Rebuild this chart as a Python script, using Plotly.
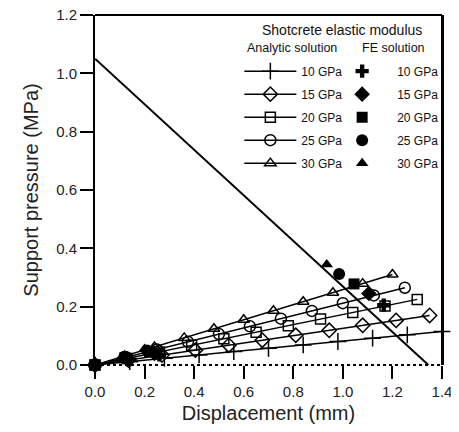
import plotly.graph_objects as go

# Ground reaction curve
grc_x = [0.0, 1.345]
grc_y = [1.05, 0.0]

moduli = ["10 GPa", "15 GPa", "20 GPa", "25 GPa", "30 GPa"]

# Analytic solution (support characteristic lines)
a10_x = [0, 0.14, 0.28, 0.42, 0.56, 0.70, 0.84, 0.98, 1.12, 1.26, 1.40]
a10_y = [0, 0.0115, 0.023, 0.0345, 0.046, 0.0575, 0.069, 0.0805, 0.092, 0.1035, 0.115]
a15_x = [0, 0.135, 0.27, 0.405, 0.54, 0.675, 0.81, 0.945, 1.08, 1.215, 1.35]
a15_y = [0, 0.017, 0.034, 0.051, 0.068, 0.085, 0.102, 0.119, 0.136, 0.153, 0.170]
a20_x = [0, 0.13, 0.26, 0.39, 0.52, 0.65, 0.78, 0.91, 1.04, 1.17, 1.30]
a20_y = [0, 0.0225, 0.045, 0.0675, 0.09, 0.1125, 0.135, 0.1575, 0.18, 0.2025, 0.225]
a25_x = [0, 0.125, 0.25, 0.375, 0.50, 0.625, 0.75, 0.875, 1.00, 1.125, 1.25]
a25_y = [0, 0.0265, 0.053, 0.0795, 0.106, 0.1325, 0.159, 0.1855, 0.212, 0.2385, 0.265]
a30_x = [0, 0.12, 0.24, 0.36, 0.48, 0.60, 0.72, 0.84, 0.96, 1.08, 1.20]
a30_y = [0, 0.031, 0.062, 0.093, 0.124, 0.155, 0.186, 0.217, 0.248, 0.279, 0.310]

# FE solution
f10_x = [0, 0.14, 0.26, 1.165]
f10_y = [0, 0.018, 0.035, 0.205]
f15_x = [0, 0.13, 0.24, 1.105]
f15_y = [0, 0.020, 0.040, 0.245]
f20_x = [0, 0.12, 0.22, 1.045]
f20_y = [0, 0.025, 0.045, 0.278]
f25_x = [0, 0.12, 0.21, 0.985]
f25_y = [0, 0.028, 0.050, 0.312]
f30_x = [0, 0.11, 0.20, 0.935]
f30_y = [0, 0.030, 0.055, 0.345]

x_ticks = [0.0, 0.2, 0.4, 0.6, 0.8, 1.0, 1.2, 1.4]
y_ticks = [0.0, 0.2, 0.4, 0.6, 0.8, 1.0, 1.2]

analytic = [(a10_x, a10_y, "cross-thin-open", 12),
            (a15_x, a15_y, "diamond-open", 11),
            (a20_x, a20_y, "square-open", 10),
            (a25_x, a25_y, "circle-open", 11),
            (a30_x, a30_y, "triangle-up-open", 10)]
fe = [(f10_x, f10_y, "cross", 11),
      (f15_x, f15_y, "diamond", 12),
      (f20_x, f20_y, "square", 11),
      (f25_x, f25_y, "circle", 12),
      (f30_x, f30_y, "triangle-up", 11)]

FONT = "Liberation Sans, Arial, sans-serif"
fig = go.Figure()

fig.add_trace(go.Scatter(x=grc_x, y=grc_y, mode="lines",
                         line=dict(color="black", width=2), showlegend=False,
                         cliponaxis=False))

for name, (xs, ys, sym, sz) in zip(moduli, analytic):
    fig.add_trace(go.Scatter(x=xs, y=ys, mode="lines+markers", name=name,
                             line=dict(color="black", width=1.5),
                             marker=dict(symbol=sym, size=sz, color="black",
                                         line=dict(color="black", width=1.5)),
                             legend="legend", legendgroup="a" + name,
                             cliponaxis=False))

for name, (xs, ys, sym, sz) in zip(moduli, fe):
    fig.add_trace(go.Scatter(x=xs, y=ys, mode="markers", name=name,
                             marker=dict(symbol=sym, size=sz, color="black",
                                         line=dict(color="black", width=0)),
                             legend="legend2", legendgroup="f" + name,
                             cliponaxis=False))

legend_common = dict(font=dict(family=FONT, size=12, color="#111"),
                     bgcolor="rgba(0,0,0,0)", borderwidth=0,
                     tracegroupgap=4,
                     xanchor="left", yanchor="top")

sub_font = dict(family=FONT, size=12.5, color="#111")

fig.update_layout(
    width=451, height=416,
    margin=dict(l=87, r=17, t=7, b=59),
    plot_bgcolor="white", paper_bgcolor="white",
    font=dict(family=FONT, color="#222"),
    legend=dict(x=0.416, y=0.881, itemwidth=52, **legend_common),
    legend2=dict(x=0.669, y=0.881, itemwidth=60, **legend_common),
    xaxis=dict(range=[0, 1.4], tickvals=x_ticks, ticktext=[f"{v:.1f}" for v in x_ticks],
               showgrid=False, zeroline=False, showline=False, automargin=False,
               ticklabeloverflow="allow",
               ticks="outside", ticklen=13, tickwidth=2, tickcolor="black",
               tickfont=dict(family=FONT, size=15, color="#222"),
               title=dict(text="Displacement (mm)", font=dict(family=FONT, size=20, color="#222"),
                          standoff=13)),
    yaxis=dict(range=[0, 1.2], tickvals=y_ticks, ticktext=[f"{v:.1f}" for v in y_ticks],
               showgrid=False, zeroline=False, showline=True, mirror=True, automargin=False,
               ticklabeloverflow="allow",
               linecolor="black", linewidth=2,
               ticks="outside", ticklen=13, tickwidth=2, tickcolor="black",
               tickfont=dict(family=FONT, size=15, color="#222"),
               title=dict(text="Support pressure (MPa)", font=dict(family=FONT, size=20, color="#222"),
                          standoff=12)),
    annotations=[
        dict(text="Shotcrete elastic modulus", xref="paper", yref="paper",
             x=0.712, y=0.957, showarrow=False, xanchor="center", yanchor="middle",
             font=dict(family=FONT, size=14, color="#111")),
        dict(text="Analytic solution", xref="paper", yref="paper",
             x=0.569, y=0.906, showarrow=False, xanchor="center", yanchor="middle",
             font=sub_font),
        dict(text="FE solution", xref="paper", yref="paper",
             x=0.859, y=0.906, showarrow=False, xanchor="center", yanchor="middle",
             font=sub_font),
    ],
    shapes=[dict(type="line", xref="paper", yref="paper", x0=0, x1=1, y0=1, y1=1,
                 line=dict(color="black", width=2)),
            dict(type="line", xref="paper", yref="paper", x0=1, x1=1, y0=0, y1=1,
                 line=dict(color="black", width=2)),
            dict(type="line", xref="paper", yref="paper", x0=0, x1=1, y0=0, y1=0,
                 line=dict(color="black", width=2, dash="dot"))],
)

fig.write_html("out.html")
